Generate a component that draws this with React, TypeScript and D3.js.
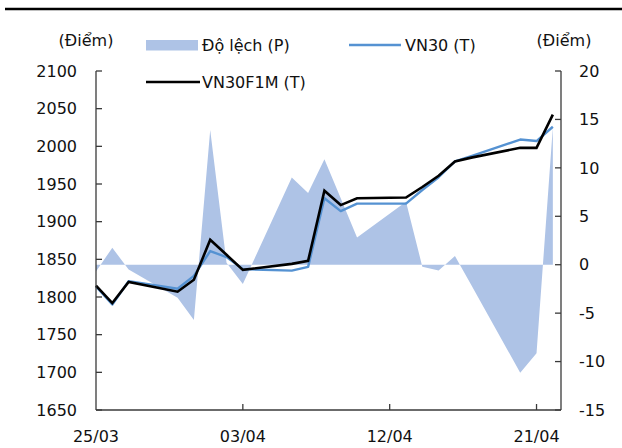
import { scaleLinear, scaleTime, line, area, timeDay } from "d3"

const dates = [
  "25/03", "26/03", "27/03", "30/03", "31/03", "01/04", "02/04", "03/04",
  "06/04", "07/04", "08/04", "09/04", "10/04", "13/04", "14/04", "15/04",
  "16/04", "17/04", "20/04", "21/04", "22/04",
]
const vn30 = [
  1814, 1790, 1821, 1811, 1828, 1861, 1853, 1837, 1835, 1840, 1931, 1914,
  1924, 1924, 1942, 1959, 1980, 1987, 2009, 2007, 2026,
]
const vn30f1m = [
  1815, 1792, 1820, 1807, 1823, 1876, 1856, 1836, 1844, 1848, 1941, 1922,
  1931, 1932, 1946, 1961, 1980, 1985, 1998, 1998, 2042,
]
const basis = [
  -0.7, 1.75, -0.5, -3.4, -5.7, 13.9, 0.2, -2.0, 9.0, 7.4, 10.9, 6.85, 2.8,
  6.5, -0.2, -0.6, 0.9, -2.1, -11.15, -9.15, 14.2,
]
const leftTicks = [1650, 1700, 1750, 1800, 1850, 1900, 1950, 2000, 2050, 2100]
const rightTicks = [-15, -10, -5, 0, 5, 10, 15, 20]
const dateTicks = ["25/03", "03/04", "12/04", "21/04"]

const YEAR = 2026
const parse = (s: string) => {
  const [d, m] = s.split("/").map(Number)
  return new Date(YEAR, m - 1, d)
}

export default function App() {
  const W = 622
  const H = 448
  const left = 96
  const right = 561
  const top = 71
  const bottom = 410
  const font = "DejaVu Sans, Verdana, sans-serif"
  const fs = 16
  const textColor = "#111"
  const axisColor = "#3a3a3a"

  const x = scaleTime()
    .domain([parse("25/03"), timeDay.offset(parse("22/04"), 0.5)])
    .range([left, right])
  // half a day extra at the end
  x.domain([parse("25/03"), new Date(parse("22/04").getTime() + 12 * 3600 * 1000)])

  const yL = scaleLinear().domain([1650, 2100]).range([bottom, top])
  const yR = scaleLinear().domain([-15, 20]).range([bottom, top])

  const pts = dates.map((d, i) => ({
    t: parse(d),
    a: vn30[i],
    b: vn30f1m[i],
    c: basis[i],
  }))

  const basisArea = area<any>()
    .x((d) => x(d.t))
    .y0(yR(0))
    .y1((d) => yR(d.c))
  const vnLine = line<any>()
    .x((d) => x(d.t))
    .y((d) => yL(d.a))
  const futLine = line<any>()
    .x((d) => x(d.t))
    .y((d) => yL(d.b))

  return (
    <svg
      width={W}
      height={H}
      style={{ position: "absolute", left: 0, top: 0, background: "#fff" }}
      fontFamily={font}
      fontSize={fs}
      fill={textColor}
    >
      <line x1={5} x2={W} y1={9} y2={9} stroke="#000" strokeWidth={2.5} />

      <path d={basisArea(pts) || undefined} fill="#aec3e6" />
      <path
        d={vnLine(pts) || undefined}
        fill="none"
        stroke="#5592d2"
        strokeWidth={2.4}
        strokeLinejoin="round"
      />
      <path
        d={futLine(pts) || undefined}
        fill="none"
        stroke="#000"
        strokeWidth={2.6}
        strokeLinejoin="miter"
      />

      {/* axes */}
      <g stroke={axisColor} strokeWidth={1.3} fill="none">
        <line x1={left} x2={left} y1={top} y2={bottom} />
        <line x1={right} x2={right} y1={top} y2={bottom} />
        <line x1={left} x2={right} y1={bottom} y2={bottom} />
        {leftTicks.map((v) => (
          <line key={v} x1={left} x2={left + 6} y1={yL(v)} y2={yL(v)} />
        ))}
        {rightTicks.map((v) => (
          <line key={v} x1={right - 6} x2={right} y1={yR(v)} y2={yR(v)} />
        ))}
        {dateTicks.slice(1).map((d) => (
          <line key={d} x1={x(parse(d))} x2={x(parse(d))} y1={bottom} y2={bottom - 6} />
        ))}
      </g>

      {leftTicks.map((v) => (
        <text key={v} x={77} y={yL(v)} dy="0.36em" textAnchor="end">
          {v}
        </text>
      ))}
      {rightTicks.map((v) => (
        <text key={v} x={579} y={yR(v)} dy="0.36em">
          {v}
        </text>
      ))}
      {dateTicks.map((d) => (
        <text key={d} x={x(parse(d))} y={442} textAnchor="middle">
          {d}
        </text>
      ))}

      <text x={86} y={46} textAnchor="middle">(Điểm)</text>
      <text x={564} y={46} textAnchor="middle">(Điểm)</text>

      {/* legend */}
      <rect x={146} y={40} width={52} height={10.5} fill="#aec3e6" />
      <text x={202} y={51}>Độ lệch (P)</text>
      <line x1={349} x2={401} y1={45} y2={45} stroke="#5592d2" strokeWidth={2.4} />
      <text x={405} y={51}>VN30 (T)</text>
      <line x1={146} x2={200} y1={82} y2={82} stroke="#000" strokeWidth={2.6} />
      <text x={202} y={88}>VN30F1M (T)</text>
    </svg>
  )
}
